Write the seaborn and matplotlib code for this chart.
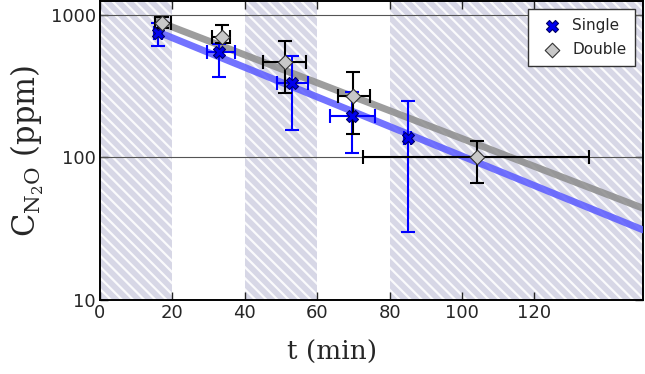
import numpy as np
import pandas as pd
import matplotlib
matplotlib.use("Agg")
import matplotlib.pyplot as plt
import seaborn as sns

# ---- data ----
single_t = [16, 33, 53, 69.5, 85]
single_c = [750, 551, 334, 194, 138]
single_tlo = [1, 3.5, 4, 6, 1]
single_thi = [1, 4.2, 4.4, 6.4, 1]
single_clo = [143, 183, 177, 86, 108]
single_chi = [130, 76, 183, 96, 109]

double_t = [17, 33.6, 51, 70, 104]
double_c = [880, 702, 469, 272, 100]
double_tlo = [1.8, 2.6, 6, 4.2, 31.4]
double_thi = [2.6, 2.4, 6, 4.5, 31]
double_clo = [70, 70, 188, 127, 34]
double_chi = [80, 149, 189, 127, 31]

fit_t = [16, 150]
single_fit = [760, 31]
double_fit = [900, 44]

band_edges = [(0, 20), (40, 60), (80, 150)]
xticks = [0, 20, 40, 60, 80, 100, 120]
yticks = [10, 100, 1000]
ytick_labels = ["10", "100", "1000"]

sns.set_style("ticks")
plt.rcParams['font.family'] = ['DejaVu Sans']
plt.rcParams['hatch.linewidth'] = 1.6

fig = plt.figure(figsize=(6.45, 3.74), dpi=100)
ax = fig.add_axes([0.155, 0.198, 0.842, 0.799])

for a, b in band_edges:
    ax.axvspan(a, b, facecolor='#d7d7e6', edgecolor='#fafafc', hatch='\\\\\\', linewidth=0, zorder=0)

for y in [100, 1000]:
    ax.axhline(y, color='#555555', lw=0.8, zorder=1)

fit_df = pd.DataFrame({'t': fit_t * 2, 'c': double_fit + single_fit,
                       'series': ['Double'] * 2 + ['Single'] * 2})
sns.lineplot(data=fit_df[fit_df.series == 'Double'], x='t', y='c', color='#8c8c8c', lw=5, alpha=0.85,
             ax=ax, legend=False, zorder=2)
sns.lineplot(data=fit_df[fit_df.series == 'Single'], x='t', y='c', color='#5a5aff', lw=5, alpha=0.85,
             ax=ax, legend=False, zorder=3)

ax.errorbar(single_t, single_c, xerr=[single_tlo, single_thi], yerr=[single_clo, single_chi],
            fmt='none', ecolor='#0000ff', elinewidth=1.5, capsize=5, capthick=1.5, zorder=4)
ax.errorbar(double_t, double_c, xerr=[double_tlo, double_thi], yerr=[double_clo, double_chi],
            fmt='none', ecolor='black', elinewidth=1.5, capsize=5, capthick=1.5, zorder=5)

sdf = pd.DataFrame({'t': single_t, 'c': single_c})
ddf = pd.DataFrame({'t': double_t, 'c': double_c})
sns.scatterplot(data=sdf, x='t', y='c', marker='X', s=75, color='#0000ee', edgecolor='#000066',
                linewidth=0.8, ax=ax, zorder=6, label='Single')
sns.scatterplot(data=ddf, x='t', y='c', marker='D', s=55, color='#c8c8c8', edgecolor='#333333',
                linewidth=0.8, ax=ax, zorder=7, label='Double')

ax.set_yscale('log')
ax.set_xlim(0, 150)
ax.set_ylim(10, 1250)
ax.set_xticks(xticks)
ax.set_xticklabels([str(v) for v in xticks], fontsize=13)
ax.set_yticks(yticks)
ax.set_yticklabels(ytick_labels, fontsize=13)
ax.yaxis.set_minor_locator(matplotlib.ticker.NullLocator())
ax.tick_params(direction='in', top=True, right=True, length=6, width=1, pad=3)
for s in ax.spines.values():
    s.set_linewidth(1.4)
    s.set_color('black')

ax.set_xlabel('t (min)', family='DejaVu Serif', fontsize=19)
ax.xaxis.set_label_coords(64 / 150, -0.135)
ax.set_ylabel(r'C$_{\mathregular{N_2O}}$ (ppm)', family='DejaVu Serif', fontsize=22)
ax.yaxis.set_label_coords(-0.10, 0.5)

leg = ax.legend(loc='upper right', fontsize=11, frameon=True, fancybox=False, framealpha=1,
                edgecolor='#333333', borderpad=0.6, handletextpad=0.3, labelspacing=0.6,
                borderaxespad=0.5)
leg.get_frame().set_linewidth(1.0)

fig.savefig('out.png', dpi=100)
